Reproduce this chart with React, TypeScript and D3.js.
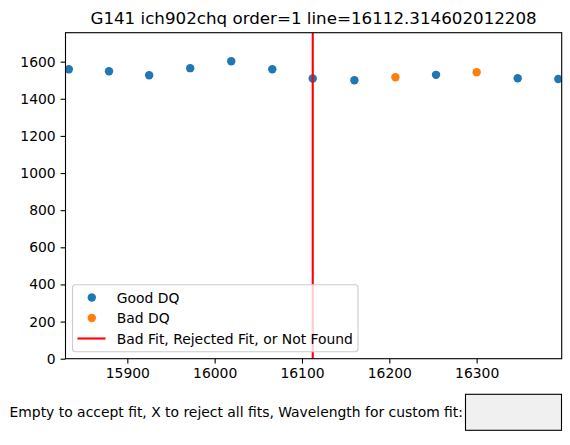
import React, { useRef, useEffect } from "react"
import * as d3 from "d3"

// values
const goodWave = [15833, 15879, 15925, 15972, 16019, 16066, 16112.3, 16160, 16253.5, 16347, 16393.5]
const goodFlux = [1559, 1548, 1527, 1565, 1602, 1559, 1509, 1500, 1529, 1511, 1507]
const badWave = [16207, 16300]
const badFlux = [1516, 1543]
const lineWave = 16112.314602012208
const xTicks = [15900, 16000, 16100, 16200, 16300]
const yTicks = [0, 200, 400, 600, 800, 1000, 1200, 1400, 1600]
const legendLabels = ["Good DQ", "Bad DQ", "Bad Fit, Rejected Fit, or Not Found"]
const titleText = "G141 ich902chq order=1 line=16112.314602012208"
const promptText = "Empty to accept fit, X to reject all fits, Wavelength for custom fit:"

const W = 570
const H = 445
const margin = { top: 32.7, right: 8.3, bottom: 86.3, left: 65.5 }
const font = "DejaVu Sans, sans-serif"
const blue = "#1f77b4"
const orange = "#ff7f0e"

const App: React.FC = () => {
  const svgRef = useRef<SVGSVGElement>(null)

  useEffect(() => {
    const svg = d3.select(svgRef.current)
    svg.selectAll("*").remove()

    const x0 = margin.left
    const x1 = W - margin.right
    const y0 = H - margin.bottom
    const y1 = margin.top

    const x = d3.scaleLinear().domain([15829.2, 16397.4]).range([x0, x1])
    const y = d3.scaleLinear().domain([0, 1756]).range([y0, y1])

    svg.append("defs").append("clipPath").attr("id", "plotclip")
      .append("rect")
      .attr("x", x0).attr("y", y1)
      .attr("width", x1 - x0).attr("height", y0 - y1)

    // title
    svg.append("text")
      .attr("x", (x0 + x1) / 2)
      .attr("y", 24.4)
      .attr("text-anchor", "middle")
      .style("font-family", font)
      .style("font-size", "16.7px")
      .text(titleText)

    const plot = svg.append("g").attr("clip-path", "url(#plotclip)")

    plot.selectAll("circle.good")
      .data(goodWave)
      .enter().append("circle")
      .attr("class", "good")
      .attr("cx", d => x(d))
      .attr("cy", (d, i) => y(goodFlux[i]))
      .attr("r", 4.2)
      .attr("fill", blue)

    plot.selectAll("circle.bad")
      .data(badWave)
      .enter().append("circle")
      .attr("class", "bad")
      .attr("cx", d => x(d))
      .attr("cy", (d, i) => y(badFlux[i]))
      .attr("r", 4.2)
      .attr("fill", orange)

    plot.append("line")
      .attr("x1", x(lineWave)).attr("x2", x(lineWave))
      .attr("y1", y0).attr("y2", y1)
      .attr("stroke", "red")
      .attr("stroke-width", 2.1)

    // axes
    const xAxisG = svg.append("g").attr("transform", `translate(0,${y0})`)
    xAxisG.call(d3.axisBottom(x).tickValues(xTicks).tickFormat(d3.format("d"))
      .tickSize(4.9).tickPadding(4.9).tickSizeOuter(0))

    const yAxisG = svg.append("g").attr("transform", `translate(${x0},0)`)
    yAxisG.call(d3.axisLeft(y).tickValues(yTicks).tickFormat(d3.format("d"))
      .tickSize(4.9).tickPadding(4.9).tickSizeOuter(0))

    svg.selectAll(".domain").remove()
    svg.selectAll(".tick line").attr("stroke", "black").attr("stroke-width", 1.1)
    svg.selectAll(".tick text")
      .attr("fill", "black")
      .style("font-family", font)
      .style("font-size", "13.9px")

    // frame
    svg.append("rect")
      .attr("x", x0).attr("y", y1)
      .attr("width", x1 - x0).attr("height", y0 - y1)
      .attr("fill", "none")
      .attr("stroke", "black")
      .attr("stroke-width", 1.1)

    // legend
    const legend = svg.append("g")
    legend.append("rect")
      .attr("x", 72.5).attr("y", 284.7)
      .attr("width", 285.5).attr("height", 67)
      .attr("rx", 3)
      .attr("fill", "white")
      .attr("fill-opacity", 0.8)
      .attr("stroke", "#cccccc")
      .attr("stroke-width", 1.1)

    const rowY = [297.5, 318, 338.5]
    legendLabels.forEach((label, i) => {
      if (i < 2) {
        legend.append("circle")
          .attr("cx", 91.8).attr("cy", rowY[i])
          .attr("r", 4.2)
          .attr("fill", i === 0 ? blue : orange)
      } else {
        legend.append("line")
          .attr("x1", 77.5).attr("x2", 105.5)
          .attr("y1", rowY[i]).attr("y2", rowY[i])
          .attr("stroke", "red")
          .attr("stroke-width", 2.1)
      }
      legend.append("text")
        .attr("x", 116.8)
        .attr("y", rowY[i] + 5)
        .style("font-family", font)
        .style("font-size", "13.9px")
        .text(label)
    })

    // text box prompt
    svg.append("text")
      .attr("x", 463)
      .attr("y", 417)
      .attr("text-anchor", "end")
      .style("font-family", font)
      .style("font-size", "13.9px")
      .text(promptText)

    svg.append("rect")
      .attr("x", 465.5).attr("y", 394.3)
      .attr("width", 96).attr("height", 36)
      .attr("fill", "#f0f0f0")
      .attr("stroke", "black")
      .attr("stroke-width", 1.1)
  }, [])

  return (
    <svg
      ref={svgRef}
      width={W}
      height={H}
      style={{ position: "absolute", left: 0, top: 0, background: "white" }}
    />
  )
}

export default App
